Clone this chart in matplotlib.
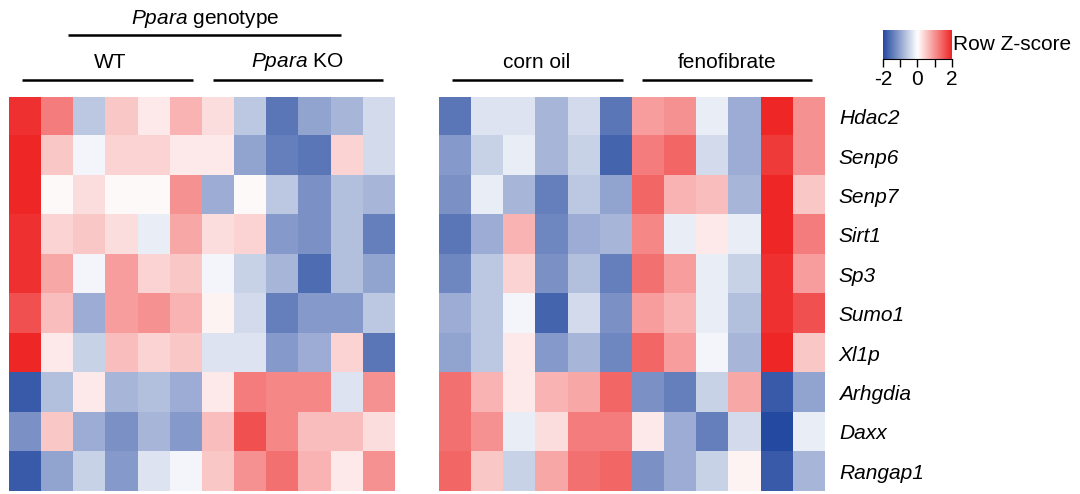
import matplotlib
matplotlib.use('Agg')
import matplotlib.pyplot as plt
import numpy as np
from matplotlib.colors import LinearSegmentedColormap

plt.rcParams['font.family'] = ['Liberation Sans', 'DejaVu Sans']
plt.rcParams['mathtext.fontset'] = 'custom'
plt.rcParams['mathtext.rm'] = 'Liberation Sans'
plt.rcParams['mathtext.it'] = 'Liberation Sans:italic'

genes = ['Hdac2', 'Senp6', 'Senp7', 'Sirt1', 'Sp3', 'Sumo1', 'Xl1p',
         'Arhgdia', 'Daxx', 'Rangap1']

# Ppara genotype: WT (6) | Ppara KO (6)
genotype_z = [
    [1.9, 1.2, -0.6, 0.5, 0.2, 0.7, 0.3, -0.6, -1.5, -1.0, -0.8, -0.4],
    [2.0, 0.5, -0.1, 0.4, 0.4, 0.2, 0.2, -1.0, -1.4, -1.5, 0.4, -0.4],
    [2.0, 0.05, 0.3, 0.05, 0.05, 1.0, -0.9, 0.05, -0.6, -1.2, -0.7, -0.8],
    [1.9, 0.4, 0.5, 0.3, -0.2, 0.8, 0.3, 0.4, -1.1, -1.2, -0.7, -1.4],
    [1.9, 0.8, -0.1, 0.9, 0.4, 0.5, -0.1, -0.5, -0.8, -1.6, -0.7, -1.0],
    [1.6, 0.6, -0.9, 0.9, 1.0, 0.7, 0.1, -0.4, -1.4, -1.1, -1.1, -0.6],
    [2.0, 0.2, -0.5, 0.6, 0.4, 0.5, -0.3, -0.3, -1.1, -0.9, 0.4, -1.5],
    [-1.8, -0.7, 0.2, -0.8, -0.7, -0.9, 0.2, 1.2, 1.1, 1.1, -0.3, 1.0],
    [-1.2, 0.5, -0.9, -1.2, -0.8, -1.1, 0.6, 1.6, 1.1, 0.6, 0.6, 0.3],
    [-1.8, -1.0, -0.5, -1.1, -0.3, -0.1, 0.5, 1.0, 1.3, 0.7, 0.2, 1.0],
]

# corn oil (6) | fenofibrate (6)
treatment_z = [
    [-1.5, -0.3, -0.3, -0.8, -0.4, -1.5, 0.9, 1.0, -0.2, -0.9, 2.0, 1.0],
    [-1.1, -0.5, -0.2, -0.8, -0.5, -1.7, 1.2, 1.4, -0.4, -0.9, 1.8, 1.0],
    [-1.2, -0.2, -0.8, -1.4, -0.6, -1.0, 1.4, 0.7, 0.6, -0.8, 2.0, 0.5],
    [-1.5, -0.9, 0.7, -1.3, -0.9, -0.8, 1.1, -0.2, 0.2, -0.2, 2.0, 1.2],
    [-1.3, -0.6, 0.4, -1.2, -0.7, -1.4, 1.3, 0.9, -0.2, -0.5, 1.9, 0.9],
    [-0.9, -0.6, -0.1, -1.7, -0.4, -1.2, 0.9, 0.7, -0.2, -0.7, 1.9, 1.6],
    [-1.0, -0.6, 0.2, -1.1, -0.8, -1.3, 1.4, 0.9, -0.1, -0.8, 2.0, 0.5],
    [1.3, 0.7, 0.2, 0.7, 0.8, 1.4, -1.2, -1.4, -0.5, 0.8, -1.8, -1.0],
    [1.3, 1.0, -0.2, 0.3, 1.2, 1.2, 0.2, -0.9, -1.4, -0.4, -2.0, -0.2],
    [1.4, 0.5, -0.5, 0.8, 1.3, 1.4, -1.2, -0.9, -0.5, 0.1, -1.8, -0.8],
]

cmap = LinearSegmentedColormap.from_list('bwr_z', ['#2449a0', '#ffffff', '#ee2626'])

W, H = 1080, 494
fig = plt.figure(figsize=(W / 100, H / 100), dpi=100)

def px_axes(x0, y0, x1, y1):
    return fig.add_axes([x0 / W, 1 - y1 / H, (x1 - x0) / W, (y1 - y0) / H])

ax1 = px_axes(9, 97, 395, 491)
ax2 = px_axes(439, 97, 825, 491)

for ax, data in [(ax1, genotype_z), (ax2, treatment_z)]:
    ax.imshow(np.array(data), cmap=cmap, vmin=-2, vmax=2, aspect='auto',
              interpolation='nearest')
    ax.set_xticks([])
    ax.set_yticks([])
    for s in ax.spines.values():
        s.set_visible(False)

ax2.yaxis.tick_right()
ax2.set_yticks(range(len(genes)))
ax2.set_yticklabels(genes, fontsize=15, style='italic')
ax2.tick_params(axis='y', length=0, pad=10)

# header annotations in pixel coords
overlay = fig.add_axes([0, 0, 1, 1], facecolor='none')
overlay.set_xlim(0, W)
overlay.set_ylim(H, 0)
overlay.axis('off')

def bar(x0, x1, y):
    overlay.plot([x0, x1], [y, y], color='black', lw=1.8, solid_capstyle='butt')

overlay.text(205, 19, r'$\it{Ppara}$ genotype', ha='center', va='center', fontsize=15)
bar(68, 341, 35)
overlay.text(110, 62, 'WT', ha='center', va='center', fontsize=15)
overlay.text(297, 62, r'$\it{Ppara}$ KO', ha='center', va='center', fontsize=15)
bar(22, 193, 80)
bar(213, 383, 80)
overlay.text(537, 62, 'corn oil', ha='center', va='center', fontsize=15)
overlay.text(727, 62, 'fenofibrate', ha='center', va='center', fontsize=15)
bar(452, 623, 80)
bar(642, 812, 80)

# colour key
cax = px_axes(883, 30, 952, 59)
grad = np.linspace(-2, 2, 256).reshape(1, -1)
cax.imshow(grad, cmap=cmap, aspect='auto', extent=[-2, 2, 0, 1])
cax.set_yticks([])
cax.set_xticks([-2, -1, 0, 1, 2])
cax.set_xticklabels(['-2', '', '0', '', '2'], fontsize=15)
cax.tick_params(axis='x', length=6, width=1, pad=2)
for side in ['top', 'left', 'right']:
    cax.spines[side].set_visible(False)
fig.text(953 / W, 1 - 45 / H, 'Row Z-score', ha='left', va='center', fontsize=15)

fig.savefig('out.png', dpi=100)
